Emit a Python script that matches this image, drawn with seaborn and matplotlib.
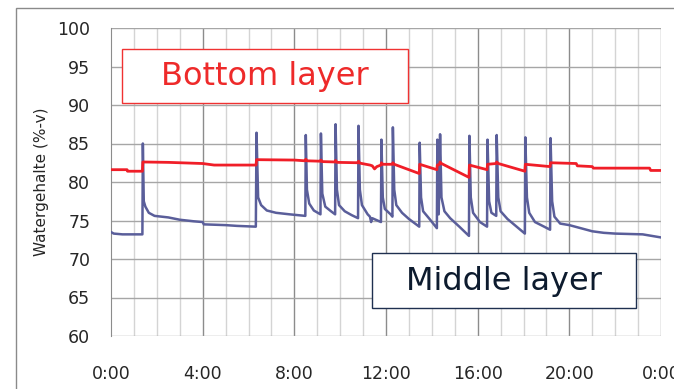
import matplotlib
matplotlib.use("Agg")
import numpy as np
import pandas as pd
import matplotlib.pyplot as plt
import seaborn as sns
from matplotlib.patches import Rectangle

# ------------------------- DATA (hours, %-v) -------------------------
middle_t = [0.0, 0.12, 0.5, 1.37, 1.39, 1.43, 1.5, 1.65, 1.9, 2.5, 3.0, 3.6, 4.0, 4.05, 5.0, 5.5,
            6.32, 6.35, 6.42, 6.55, 6.8, 7.2, 7.8, 8.48, 8.5, 8.55, 8.65, 8.85, 9.14, 9.16, 9.22,
            9.35, 9.6, 9.78, 9.8, 9.86, 9.95, 10.2, 10.5, 10.78, 10.8, 10.86, 10.95, 11.2, 11.3,
            11.35, 11.4, 11.78, 11.8, 11.86, 11.95, 12.2, 12.28, 12.3, 12.36, 12.45, 12.7, 13.0,
            13.45, 13.47, 13.53, 13.62, 13.9, 14.22, 14.24, 14.3, 14.36, 14.42, 14.55, 14.8, 15.2,
            15.62, 15.64, 15.7, 15.8, 16.1, 16.41, 16.43, 16.5, 16.6, 16.81, 16.83, 16.9, 17.0,
            17.3, 17.7, 18.06, 18.08, 18.15, 18.25, 18.5, 18.9, 19.16, 19.18, 19.25, 19.35, 19.6,
            20.0, 20.5, 21.0, 21.5, 22.0, 23.2, 23.6, 24.0]
middle_v = [73.5, 73.3, 73.2, 73.2, 85.0, 77.5, 76.8, 76.0, 75.6, 75.4, 75.1, 74.9, 74.8, 74.5, 74.4, 74.3,
            74.2, 86.4, 78.0, 77.0, 76.3, 76.0, 75.8, 75.6, 86.1, 79.0, 77.2, 76.3, 75.8, 86.3, 78.5,
            76.8, 76.2, 75.8, 87.5, 79.0, 77.0, 76.2, 75.7, 75.3, 87.3, 79.0, 77.0, 75.8, 75.5,
            74.8, 75.3, 74.8, 85.5, 78.0, 76.5, 75.8, 75.5, 87.1, 79.0, 77.0, 76.0, 75.2,
            74.2, 85.1, 78.0, 76.2, 75.2, 74.0, 85.5, 75.8, 86.2, 78.0, 76.2, 75.3, 74.2,
            73.0, 86.0, 78.0, 76.0, 74.8, 74.2, 85.5, 77.5, 76.0, 75.6, 86.1, 78.0, 76.2,
            75.2, 74.2, 73.3, 85.8, 78.0, 76.0, 74.8, 74.2, 73.8, 85.7, 77.5, 75.5, 74.6,
            74.4, 74.0, 73.6, 73.4, 73.3, 73.2, 73.0, 72.8]

bottom_t = [0.0, 0.7, 0.72, 1.37, 1.39, 2.5, 3.0, 4.0, 4.5, 6.33, 6.35, 8.0, 8.48, 8.5, 8.56,
            9.14, 9.16, 9.22, 9.78, 9.8, 9.86, 10.78, 10.8, 10.86, 11.3, 11.4, 11.5, 11.6, 11.78,
            11.8, 11.86, 12.28, 12.3, 12.36, 13.45, 13.47, 14.22, 14.24, 14.34, 14.36, 14.42,
            15.62, 15.64, 16.41, 16.43, 16.81, 16.83, 16.9, 18.06, 18.08, 19.16, 19.18, 20.3,
            20.35, 21.0, 21.05, 23.5, 23.55, 24.0]
bottom_v = [81.6, 81.6, 81.4, 81.4, 82.6, 82.55, 82.5, 82.4, 82.2, 82.2, 82.9, 82.85, 82.75, 82.95, 82.75,
            82.7, 82.85, 82.65, 82.6, 82.8, 82.55, 82.5, 82.7, 82.45, 82.2, 82.1, 81.7, 82.0, 82.2,
            82.5, 82.3, 82.3, 82.5, 82.3, 81.1, 82.3, 81.6, 82.2, 82.3, 82.6, 82.4,
            80.6, 82.2, 81.6, 82.3, 82.4, 82.6, 82.4, 81.4, 82.3, 82.0, 82.5, 82.4,
            82.1, 82.0, 81.8, 81.8, 81.5, 81.5]

x_ticks = [0, 4, 8, 12, 16, 20, 24]
x_labels = ["0:00", "4:00", "8:00", "12:00", "16:00", "20:00", "0:00"]
y_ticks = [60, 65, 70, 75, 80, 85, 90, 95, 100]

# ------------------------- PLOT -------------------------
sns.set_style("white")
plt.rcParams["font.family"] = ["DejaVu Sans"]

fig = plt.figure(figsize=(6.74, 3.89), dpi=100)
ax = fig.add_axes([111 / 674, 1 - 336 / 389, 550 / 674, 308 / 389])

# outer chart frame (only left and top edges fall inside the picture)
fig.add_artist(Rectangle((16 / 674, -0.2), 1.2, 1.2 - 8 / 389, transform=fig.transFigure,
                         fill=False, edgecolor="#8a8a8a", lw=1.0))

# grid: hourly minor lines, 4-hourly major lines
for h in range(1, 24):
    col = "#8c8c8c" if h % 4 == 0 else "#d4d4d4"
    ax.axvline(h, color=col, lw=1.0, zorder=0)
ax.axvline(24, color="#9a9a9a", lw=1.0, zorder=0)
for yv in y_ticks:
    ax.axhline(yv, color="#a6a6a6", lw=1.0, zorder=0)

sns.lineplot(x=middle_t, y=middle_v, ax=ax, color="#5a5e9a", lw=1.8, estimator=None, sort=False, zorder=3)
sns.lineplot(x=bottom_t, y=bottom_v, ax=ax, color="#f01e28", lw=2.0, estimator=None, sort=False, zorder=4)

ax.set_xlim(0, 24)
ax.set_ylim(60, 100)
ax.set_xticks(x_ticks)
ax.set_xticklabels(x_labels)
ax.set_yticks(y_ticks)
ax.tick_params(axis="both", direction="out", length=8, color="#8c8c8c", width=1.0, labelsize=12.5)
ax.tick_params(axis="x", pad=13)
ax.tick_params(axis="y", pad=7)
for s in ["top", "right", "bottom"]:
    ax.spines[s].set_visible(False)
ax.spines["left"].set_color("#8c8c8c")
ax.set_ylabel("Watergehalte (%-v)", fontsize=11, labelpad=6)
ax.set_xlabel("")

# annotation boxes
ax.add_patch(Rectangle((0.48, 90.26), 12.5, 7.0, facecolor="white", edgecolor="#f03232", lw=1.0, zorder=6))
ax.text(6.73, 93.7, "Bottom layer", color="#ee2a2a", fontsize=23, ha="center", va="center", zorder=7)
ax.add_patch(Rectangle((11.41, 63.64), 11.49, 7.14, facecolor="white", edgecolor="#1f3050", lw=1.0, zorder=6))
ax.text(17.14, 67.1, "Middle layer", color="#0d1b2e", fontsize=23, ha="center", va="center", zorder=7)

fig.savefig("out.png", dpi=100)
